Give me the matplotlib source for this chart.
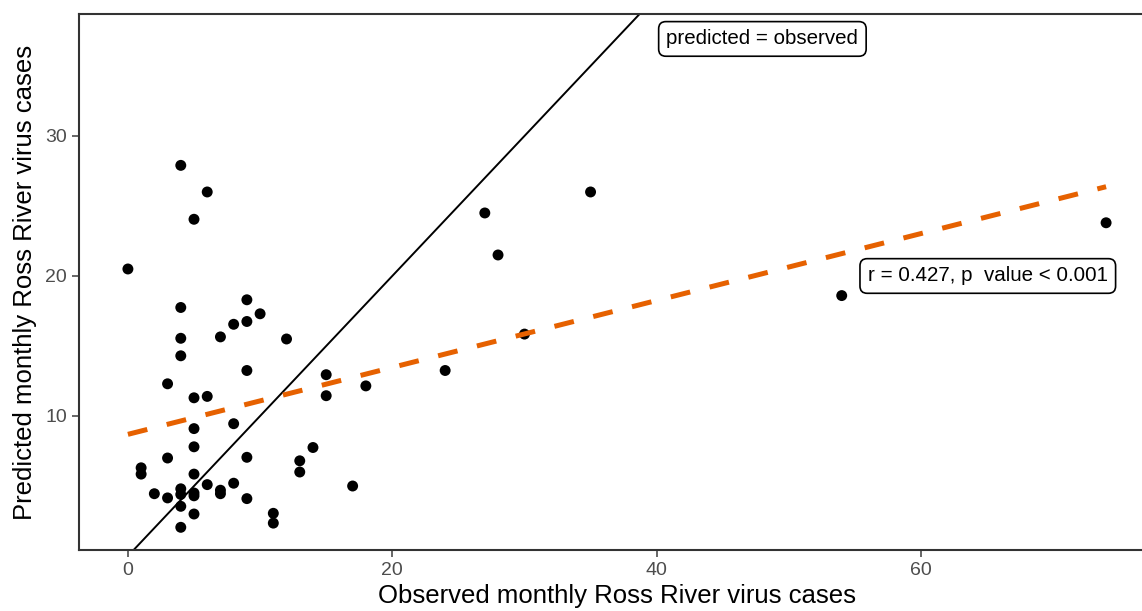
import numpy as np
import matplotlib
matplotlib.use("Agg")
import matplotlib.pyplot as plt

plt.rcParams['font.family'] = ['Liberation Sans', 'DejaVu Sans']

# observed vs predicted monthly cases
observed = [0, 1, 1, 2, 3, 3, 3, 4, 4, 4, 4, 4, 4, 4, 4,
            5, 5, 5, 5, 5, 5, 5, 5, 6, 6, 6, 7, 7, 7, 8, 8, 8,
            9, 9, 9, 9, 9, 10, 11, 11, 12, 13, 13, 14, 15, 15,
            17, 18, 24, 27, 28, 30, 35, 54, 74]
predicted = [20.5, 6.3, 5.85, 4.45, 12.3, 7.0, 4.15, 27.9, 17.75, 15.55, 14.3, 4.8, 4.4, 3.55, 2.05,
             24.05, 11.3, 9.1, 7.8, 5.85, 4.5, 4.3, 3.0, 26.0, 11.4, 5.1, 15.65, 4.7, 4.45, 16.55, 9.45, 5.2,
             18.3, 16.75, 13.25, 7.05, 4.1, 17.3, 3.05, 2.35, 15.5, 6.8, 6.0, 7.75, 12.95, 11.45,
             5.0, 12.15, 13.25, 24.5, 21.5, 15.85, 26.0, 18.6, 23.8]

# linear fit as drawn in the reference
fit_intercept = 8.69
fit_slope = 0.239

x_ticks = [0, 20, 40, 60]
y_ticks = [10, 20, 30]

fig = plt.figure(figsize=(11.42, 6.11), dpi=100)
# axes runs a little past the right edge, like the cropped original
ax = fig.add_axes([79 / 1142, 61 / 611, 1076 / 1142, 536 / 611])

ax.set_xlim(-3.7, 77.7)
ax.set_ylim(0.43, 38.71)

# identity line
ax.axline((0, 0), slope=1, color='black', lw=1.4, zorder=2)

ax.scatter(observed, predicted, s=62, color='black', edgecolors='none', zorder=3)

xs = np.array([min(observed), max(observed)])
ax.plot(xs, fit_intercept + fit_slope * xs, color='#E66100', lw=3.6,
        dashes=(4, 4), dash_capstyle='butt', zorder=4)

box = dict(boxstyle='round,pad=0.38,rounding_size=0.35', fc='white', ec='black', lw=1.2)
ax.text(48.0, 36.93, 'predicted = observed', ha='center', va='center',
        fontsize=14.8, bbox=box, zorder=5)
ax.text(65.05, 20.0, 'r = 0.427, p  value < 0.001', ha='center', va='center',
        fontsize=14.8, bbox=box, zorder=5)

ax.set_xticks(x_ticks)
ax.set_yticks(y_ticks)
ax.tick_params(colors='#4D4D4D', labelsize=14, length=5, width=1.2)
for sp in ax.spines.values():
    sp.set_color('#333333')
    sp.set_linewidth(1.5)

ax.set_xlabel('Observed monthly Ross River virus cases', fontsize=18.5, labelpad=4)
ax.set_ylabel('Predicted monthly Ross River virus cases', fontsize=18.5, labelpad=6)

fig.savefig('out.png', dpi=100)
